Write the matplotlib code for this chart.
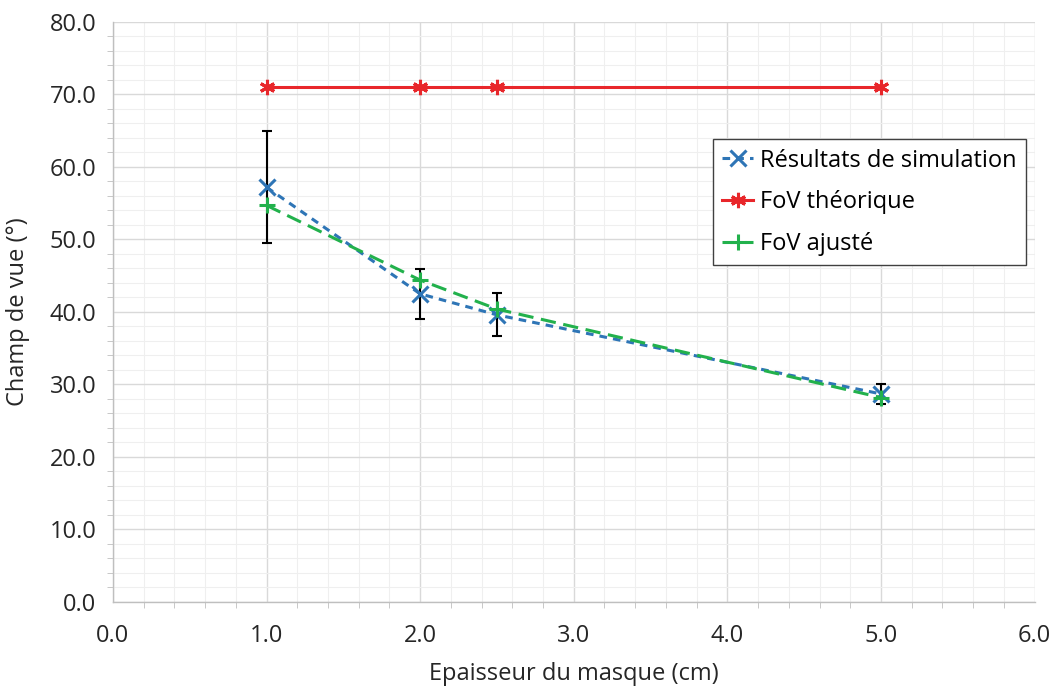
import matplotlib
matplotlib.use("Agg")
import matplotlib.pyplot as plt
from matplotlib.ticker import MultipleLocator, FormatStrFormatter

x_vals = [1.0, 2.0, 2.5, 5.0]
sim_vals = [57.2, 42.5, 39.6, 28.7]
sim_err = [7.7, 3.4, 2.95, 1.4]
theo_vals = [71.1, 71.1, 71.1, 71.1]
fit_vals = [54.7, 44.4, 40.4, 28.2]

plt.rcParams['font.family'] = ['Open Sans', 'DejaVu Sans']

fig = plt.figure(figsize=(10.6, 6.91), dpi=100)
ax = fig.add_axes([0.1066, 0.1288, 0.8694, 0.8394])

blue = '#2E75B6'
red = '#E8262A'
green = '#22B14C'
txt = '#262626'

ax.errorbar(x_vals, sim_vals, yerr=sim_err, fmt='none', ecolor='black',
            elinewidth=1.5, capsize=3.5, capthick=1.5, zorder=3)
ax.plot(x_vals, sim_vals, color=blue, linestyle=(0, (2.5, 2)), linewidth=2.2,
        marker='x', markersize=11, markeredgewidth=2.2, label='Résultats de simulation', zorder=4)
ax.plot(x_vals, theo_vals, color=red, linestyle='-', linewidth=2.2,
        marker=(6, 2, 0), markersize=11, markeredgewidth=2.2, label='FoV théorique', zorder=4)
ax.plot(x_vals, fit_vals, color=green, linestyle=(0, (5, 2.5)), linewidth=2.2,
        marker='+', markersize=12, markeredgewidth=2.2, label='FoV ajusté', zorder=4)

ax.set_xlim(0, 6)
ax.set_ylim(0, 80)
ax.xaxis.set_major_locator(MultipleLocator(1))
ax.xaxis.set_minor_locator(MultipleLocator(0.2))
ax.yaxis.set_major_locator(MultipleLocator(10))
ax.yaxis.set_minor_locator(MultipleLocator(2))
ax.xaxis.set_major_formatter(FormatStrFormatter('%.1f'))
ax.yaxis.set_major_formatter(FormatStrFormatter('%.1f'))

ax.grid(which='major', color='#D9D9D9', linewidth=1.0, zorder=0)
ax.grid(which='minor', color='#EFEFEF', linewidth=0.8, zorder=0)
ax.set_axisbelow(True)

for side in ['top', 'right']:
    ax.spines[side].set_visible(False)
for side in ['left', 'bottom']:
    ax.spines[side].set_color('#BFBFBF')
    ax.spines[side].set_linewidth(1.0)

ax.tick_params(which='major', length=0, labelsize=17, colors=txt)
ax.tick_params(axis='y', which='major', pad=12)
ax.tick_params(axis='x', which='major', pad=16)
ax.tick_params(which='minor', length=4, color='#BFBFBF', direction='out')

ax.set_xlabel('Epaisseur du masque (cm)', fontsize=17, color=txt, labelpad=10)
ax.set_ylabel('Champ de vue (°)', fontsize=17, color=txt, labelpad=14)

leg = ax.legend(loc='upper left', bbox_to_anchor=(0.651, 0.798), borderaxespad=0,
                fontsize=17, frameon=True, fancybox=False, edgecolor='#404040', framealpha=1,
                handlelength=1.3, handletextpad=0.3, borderpad=0.4, labelspacing=0.75)
leg.get_frame().set_linewidth(1.0)

fig.savefig('out.png', dpi=100)
